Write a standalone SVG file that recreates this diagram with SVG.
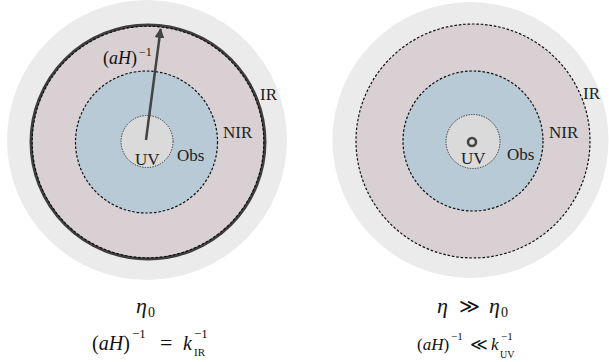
<svg xmlns="http://www.w3.org/2000/svg" width="609" height="362" viewBox="0 0 609 362">
<style>
.bg{fill:#ebebeb}
.ir{fill:#d8d0d2}
.nir{fill:#b7cad6}
.uv{fill:#dadada}
.dash{fill:none;stroke:#111;stroke-width:1.2;stroke-dasharray:2.6 1.8}
.dot{fill:none;stroke:#333;stroke-width:1;stroke-dasharray:1.3 1.3}
.lbl{font-size:17px;fill:#222}
.m{fill:#111}
.i{font-style:italic}
</style>
<defs>
<marker id="ah" viewBox="0 0 10 10" refX="9" refY="5" markerWidth="4" markerHeight="4" orient="auto" markerUnits="strokeWidth">
<path d="M0,0 L10,5 L0,10 z" fill="#444"/>
</marker>
</defs>

<g font-family="'Liberation Serif', 'Times New Roman', 'DejaVu Serif', serif">
<g id="left">
<circle id="left-bg" class="bg" cx="147" cy="140" r="140"/>
<g id="left-IR">
<circle class="ir" cx="148" cy="142" r="117"/>
<circle cx="148" cy="142" r="117" fill="none" stroke="#3e3e3e" stroke-width="3"/>
<circle cx="148" cy="142" r="115.8" class="dash"/>
<text class="lbl" x="260" y="100">IR</text>
</g>
<g id="left-NIR">
<circle class="nir" cx="146.5" cy="142" r="71"/>
<circle class="dash" cx="146.5" cy="142" r="71"/>
<text class="lbl" x="223" y="138">NIR</text>
</g>
<g id="left-Obs">
<text class="lbl" x="177" y="161">Obs</text>
</g>
<g id="left-UV">
<circle class="uv" cx="147" cy="141.5" r="26"/>
<circle class="dot" cx="147" cy="141.5" r="26"/>
<text class="lbl" x="135" y="165">UV</text>
</g>
</g>

<g id="right">
<circle id="right-bg" class="bg" cx="470.5" cy="140" r="138"/>
<g id="right-IR">
<circle class="ir" cx="473" cy="141" r="117"/>
<circle class="dash" cx="473" cy="141" r="117"/>
<text class="lbl" x="583" y="99">IR</text>
</g>
<g id="right-NIR">
<circle class="nir" cx="473" cy="141" r="70"/>
<circle class="dash" cx="473" cy="141" r="70"/>
<text class="lbl" x="549" y="138">NIR</text>
</g>
<g id="right-Obs">
<text class="lbl" x="507" y="160">Obs</text>
</g>
<g id="right-UV">
<circle class="uv" cx="473" cy="141.5" r="27"/>
<circle class="dot" cx="473" cy="141.5" r="27"/>
<circle cx="472" cy="142" r="4" fill="none" stroke="#444" stroke-width="2.6"/>
<text class="lbl" x="461" y="164">UV</text>
</g>
</g>

<g id="connectors">
<line x1="146" y1="140" x2="160.6" y2="29" stroke="#444" stroke-width="2.5" marker-end="url(#ah)"/>
<text class="m" x="103" y="64" font-size="18">(<tspan class="i">aH</tspan>)</text>
<text class="m" x="139" y="56" font-size="12">−1</text>
</g>

<g id="captions">
<text class="m i" x="136" y="313" font-size="22">η</text>
<text class="m" x="148" y="317" font-size="14">0</text>

<text class="m" x="92" y="350" font-size="20">(<tspan class="i">aH</tspan>)</text>
<text class="m" x="132" y="338" font-size="13">−1</text>
<text class="m" x="160" y="350" font-size="22">=</text>
<text class="m i" x="183" y="350" font-size="20">k</text>
<text class="m" x="194" y="338" font-size="13">−1</text>
<text class="m" x="194" y="356" font-size="11">IR</text>

<text class="m i" x="437" y="313" font-size="22">η</text>
<text class="m" x="459" y="313" font-size="20">≫</text>
<text class="m i" x="489" y="313" font-size="22">η</text>
<text class="m" x="501" y="317" font-size="14">0</text>

<text class="m" x="417" y="350" font-size="17">(<tspan class="i">aH</tspan>)</text>
<text class="m" x="451" y="340" font-size="11">−1</text>
<text class="m" x="470" y="350" font-size="17">≪</text>
<text class="m i" x="491" y="350" font-size="17">k</text>
<text class="m" x="501" y="340" font-size="11">−1</text>
<text class="m" x="500" y="358" font-size="10">UV</text>
</g>
</g>
</svg>
